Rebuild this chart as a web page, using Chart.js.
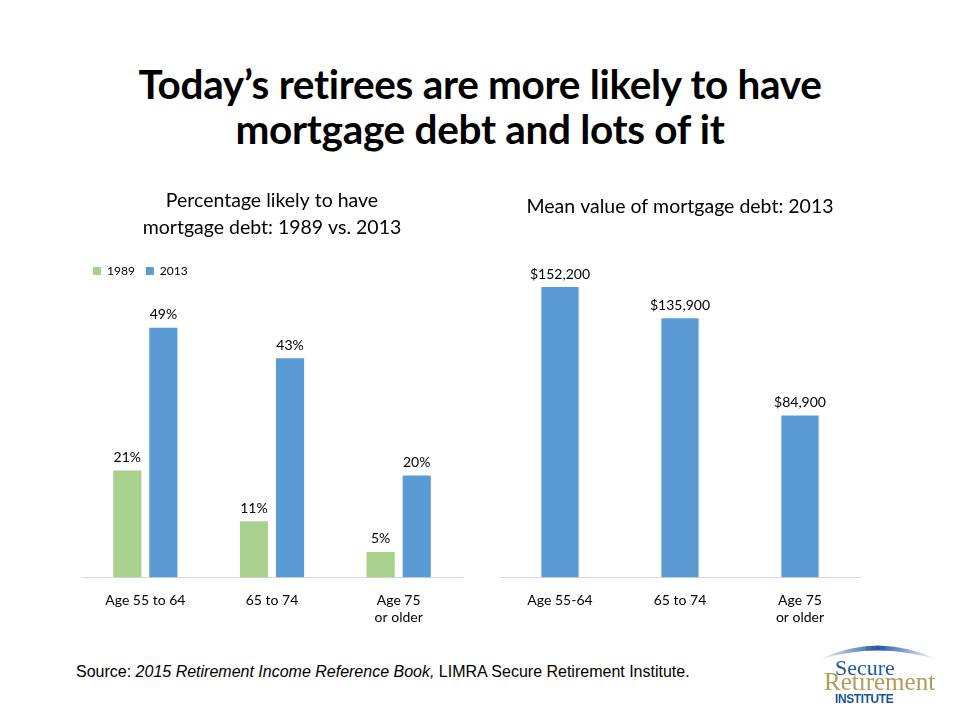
<!DOCTYPE html>
<html>
<head>
<meta charset="utf-8">
<script src="https://cdn.jsdelivr.net/npm/chart.js@4.4.1/dist/chart.umd.min.js"></script>
<style>
  html,body{margin:0;padding:0;background:#fff;}
  #slide{position:relative;width:960px;height:720px;overflow:hidden;background:#fff;font-family:Lato,"Open Sans",sans-serif;}
  #title{position:absolute;left:0;top:61px;width:960px;text-align:center;font-family:Lato,sans-serif;font-weight:bold;font-size:40.5px;line-height:45px;color:#000;letter-spacing:-0.3px;}
  .cv{position:absolute;}
  #source{position:absolute;left:76px;top:663px;font-family:"Liberation Sans",Arial,sans-serif;font-size:16px;color:#000;}
  #logo{position:absolute;left:810px;top:638px;width:140px;height:72px;}
</style>
</head>
<body>
<div id="slide">
  <div id="title">Today’s retirees are more likely to have<br>mortgage debt and lots of it</div>
  <div class="cv" style="left:70px;top:180px;width:410px;height:469px;"><canvas id="c1"></canvas></div>
  <div class="cv" style="left:480px;top:180px;width:400px;height:469px;"><canvas id="c2"></canvas></div>
  <div id="source">Source: <i>2015 Retirement Income Reference Book,</i> LIMRA Secure Retirement Institute.</div>
  <svg id="logo" viewBox="0 0 140 72" xmlns="http://www.w3.org/2000/svg">
    <defs>
      <linearGradient id="arc" x1="0" x2="1" y1="0" y2="0">
        <stop offset="0" stop-color="#ffffff"/>
        <stop offset="0.5" stop-color="#2a5ca8"/>
        <stop offset="1" stop-color="#ffffff"/>
      </linearGradient>
    </defs>
    <path d="M8 22 Q68 -7 128 22 Q68 3 8 22 Z" fill="url(#arc)"/>
    <text x="66" y="12" text-anchor="middle" font-family="Liberation Serif,serif" font-size="6" fill="#2f4f8a">LIMRA</text>
    <text x="25" y="37" font-family="Liberation Serif,serif" font-size="22" fill="#1f5aa6">Secure</text>
    <text x="14" y="52" font-family="Liberation Serif,serif" font-size="25" fill="#b39a5a">Retirement</text>
    <text x="25" y="65" font-family="Liberation Sans,sans-serif" font-weight="bold" font-size="12" fill="#1a4f9c" letter-spacing="-0.4">INSTITUTE</text>
  </svg>
</div>
<script>
const categoriesLeft = ['Age 55 to 64', '65 to 74', ['Age 75', 'or older']];
const values1989 = [21, 11, 5];
const values2013 = [49, 43, 20];
const seriesNames = ['1989', '2013'];

const categoriesRight = ['Age 55-64', '65 to 74', ['Age 75', 'or older']];
const meanDebt2013 = [152200, 135900, 84900];

const GREEN = '#A9D18E';
const BLUE = '#5B9BD5';
const FONT = 'Lato, "Open Sans", sans-serif';

const valueLabels = {
  id: 'valueLabels',
  afterDatasetsDraw(chart, args, opts) {
    const ctx = chart.ctx;
    ctx.save();
    ctx.font = '14px ' + FONT;
    ctx.fillStyle = '#000';
    ctx.textAlign = 'center';
    ctx.textBaseline = 'bottom';
    chart.data.datasets.forEach((ds, i) => {
      const meta = chart.getDatasetMeta(i);
      meta.data.forEach((bar, j) => {
        ctx.fillText(opts.fmt(ds.data[j]), bar.x, bar.y - 6);
      });
    });
    ctx.restore();
  }
};

const xAxis = () => ({
  grid: { display: false, drawTicks: false },
  border: { display: true, color: '#D9D9D9', width: 1 },
  ticks: { color: '#000', font: { family: FONT, size: 14 }, padding: 15, maxRotation: 0, autoSkip: false }
});

new Chart(document.getElementById('c1'), {
  type: 'bar',
  data: {
    labels: categoriesLeft,
    datasets: [
      { label: seriesNames[0], data: values1989, backgroundColor: GREEN },
      { label: seriesNames[1], data: values2013, backgroundColor: BLUE }
    ]
  },
  options: {
    responsive: true, maintainAspectRatio: false, animation: false,
    datasets: { bar: { categoryPercentage: 0.57, barPercentage: 0.78 } },
    layout: { padding: { left: 12, right: 18, top: 0, bottom: 8 } },
    scales: {
      x: xAxis(),
      y: { display: false, min: 0, max: 57 }
    },
    plugins: {
      title: { display: true, text: ['Percentage likely to have', 'mortgage debt: 1989 vs. 2013'], color: '#000',
               font: { family: FONT, size: 19.5, weight: 'normal', lineHeight: 1.385 }, padding: { top: 7, bottom: 13 } },
      legend: { display: true, align: 'start',
                labels: { color: '#000', font: { family: FONT, size: 12 }, boxWidth: 8, boxHeight: 8, padding: 11 } },
      tooltip: { enabled: false },
      valueLabels: { fmt: v => v + '%' }
    }
  },
  plugins: [valueLabels]
});

new Chart(document.getElementById('c2'), {
  type: 'bar',
  data: {
    labels: categoriesRight,
    datasets: [
      { label: '2013', data: meanDebt2013, backgroundColor: BLUE }
    ]
  },
  options: {
    responsive: true, maintainAspectRatio: false, animation: false,
    datasets: { bar: { categoryPercentage: 0.62, barPercentage: 0.5 } },
    layout: { padding: { left: 20, right: 20, top: 0, bottom: 8 } },
    scales: {
      x: xAxis(),
      y: { display: false, min: 0, max: 180000 }
    },
    plugins: {
      title: { display: true, text: 'Mean value of mortgage debt: 2013', color: '#000',
               font: { family: FONT, size: 19.5, weight: 'normal', lineHeight: 1.385 }, padding: { top: 13, bottom: 14 } },
      legend: { display: false },
      tooltip: { enabled: false },
      valueLabels: { fmt: v => '$' + v.toLocaleString('en-US') }
    }
  },
  plugins: [valueLabels]
});
</script>
</body>
</html>
